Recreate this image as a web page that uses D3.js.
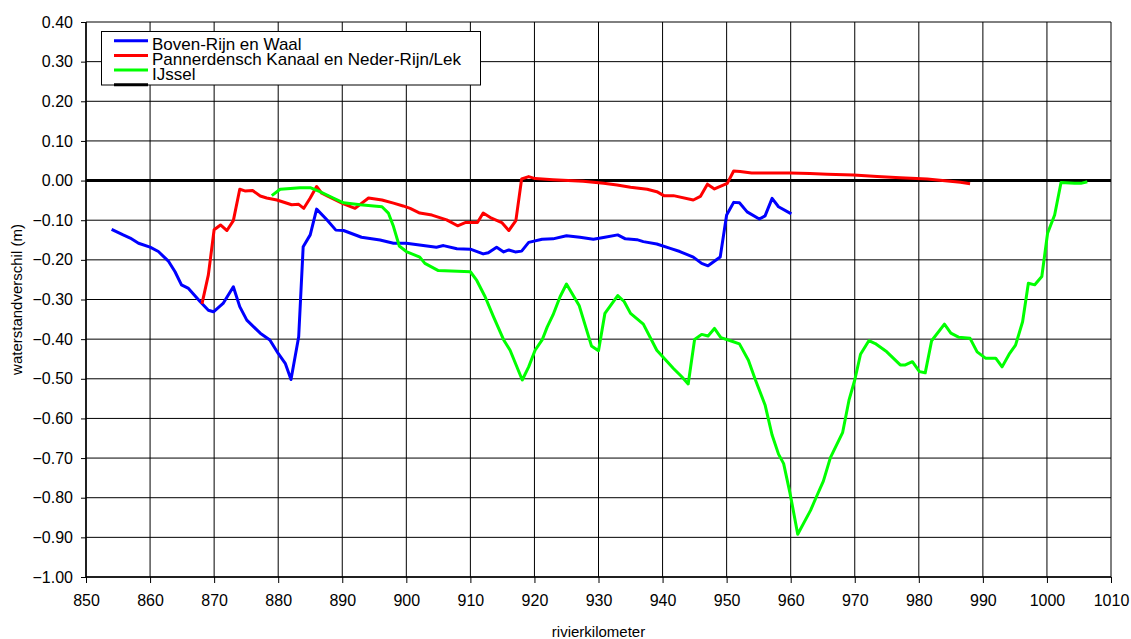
<!DOCTYPE html>
<html>
<head>
<meta charset="utf-8">
<script src="https://cdn.jsdelivr.net/npm/d3@7"></script>
<style>
  body { margin: 0; background: #fff; }
  text { font-family: "Liberation Sans", Arial, sans-serif; fill: #000; }
</style>
</head>
<body>
<svg id="chart" width="1131" height="639"></svg>
<script>
// series: [rivierkilometer, waterstandverschil (m)]
const bovenRijnWaal = [[854.0,-0.123],[855.8,-0.137],[856.9,-0.145],[858.2,-0.158],[860.0,-0.168],[861.3,-0.179],[862.9,-0.204],[863.9,-0.230],[864.9,-0.263],[866.0,-0.272],[867.8,-0.305],[869.1,-0.327],[869.9,-0.331],[871.4,-0.310],[873.0,-0.268],[874.0,-0.318],[875.1,-0.352],[877.2,-0.385],[878.7,-0.402],[880.0,-0.436],[881.1,-0.461],[882.0,-0.502],[883.2,-0.394],[883.9,-0.167],[885.0,-0.137],[886.0,-0.072],[887.6,-0.099],[889.0,-0.125],[890.2,-0.126],[893.0,-0.143],[895.9,-0.150],[898.0,-0.158],[900.0,-0.158],[904.7,-0.168],[905.8,-0.164],[907.9,-0.172],[910.0,-0.173],[912.0,-0.185],[912.8,-0.182],[914.1,-0.168],[915.2,-0.180],[916.0,-0.175],[917.0,-0.180],[918.0,-0.178],[919.1,-0.156],[921.2,-0.148],[922.9,-0.147],[925.0,-0.139],[927.1,-0.143],[929.2,-0.148],[931.0,-0.143],[933.0,-0.137],[934.2,-0.147],[936.0,-0.149],[937.0,-0.154],[939.1,-0.160],[941.2,-0.171],[942.7,-0.179],[944.8,-0.193],[946.1,-0.209],[947.1,-0.215],[949.0,-0.193],[950.0,-0.087],[951.1,-0.055],[952.0,-0.056],[953.2,-0.079],[955.1,-0.097],[956.0,-0.089],[957.1,-0.045],[958.1,-0.066],[960.1,-0.084]];

const pannerdenschLek = [[868.1,-0.311],[869.1,-0.238],[870.0,-0.124],[871.0,-0.112],[872.0,-0.126],[873.0,-0.101],[874.0,-0.022],[874.8,-0.026],[876.0,-0.025],[877.2,-0.039],[878.2,-0.044],[879.8,-0.049],[882.1,-0.061],[883.2,-0.060],[884.0,-0.070],[885.0,-0.044],[886.0,-0.015],[886.8,-0.032],[887.8,-0.040],[890.2,-0.059],[892.0,-0.070],[894.1,-0.044],[896.2,-0.049],[898.0,-0.057],[899.5,-0.064],[900.6,-0.070],[902.1,-0.082],[904.0,-0.087],[906.3,-0.099],[908.0,-0.114],[909.2,-0.106],[911.1,-0.106],[912.0,-0.082],[913.3,-0.095],[914.9,-0.106],[916.0,-0.126],[917.1,-0.101],[918.0,0.004],[919.1,0.010],[920.1,0.005],[922.9,0.002],[927.6,-0.002],[930.8,-0.007],[932.9,-0.011],[935.0,-0.017],[937.6,-0.022],[939.1,-0.028],[940.2,-0.038],[941.7,-0.038],[944.8,-0.049],[945.9,-0.040],[947.0,-0.009],[948.1,-0.021],[950.1,-0.007],[951.1,0.024],[952.1,0.023],[953.9,0.019],[959.9,0.019],[963.0,0.018],[965.7,0.016],[969.8,0.014],[973.5,0.010],[977.1,0.007],[981.3,0.004],[986.5,-0.004],[988.0,-0.008]];

const ijssel = [[879.0,-0.038],[880.3,-0.022],[881.9,-0.020],[883.4,-0.018],[885.0,-0.018],[886.5,-0.028],[888.6,-0.044],[890.2,-0.056],[892.8,-0.061],[896.2,-0.066],[897.2,-0.082],[898.0,-0.116],[898.9,-0.165],[900.0,-0.179],[902.1,-0.193],[902.9,-0.209],[905.0,-0.227],[910.0,-0.230],[911.0,-0.252],[912.3,-0.293],[913.6,-0.343],[915.2,-0.402],[916.2,-0.428],[918.1,-0.503],[919.1,-0.470],[920.1,-0.428],[921.2,-0.402],[922.0,-0.369],[922.9,-0.339],[924.0,-0.293],[925.0,-0.261],[927.0,-0.316],[928.9,-0.417],[930.0,-0.429],[931.0,-0.335],[933.0,-0.290],[934.0,-0.305],[935.0,-0.335],[937.0,-0.362],[939.1,-0.428],[941.7,-0.474],[943.0,-0.495],[944.0,-0.513],[945.0,-0.401],[946.1,-0.388],[947.1,-0.392],[948.1,-0.373],[949.1,-0.396],[950.6,-0.404],[952.0,-0.412],[953.4,-0.453],[954.5,-0.503],[956.0,-0.566],[957.1,-0.642],[958.1,-0.690],[958.9,-0.714],[959.9,-0.789],[961.1,-0.892],[963.1,-0.832],[963.9,-0.802],[965.1,-0.758],[966.2,-0.699],[968.1,-0.636],[969.1,-0.554],[970.0,-0.503],[970.9,-0.438],[972.2,-0.404],[973.2,-0.411],[975.0,-0.432],[977.1,-0.465],[977.9,-0.465],[979.0,-0.457],[980.1,-0.482],[981.0,-0.485],[982.0,-0.404],[984.0,-0.362],[985.0,-0.385],[986.2,-0.395],[988.0,-0.398],[989.1,-0.432],[990.4,-0.448],[992.0,-0.448],[993.0,-0.470],[994.1,-0.438],[995.1,-0.415],[996.2,-0.356],[997.1,-0.259],[998.1,-0.263],[999.2,-0.242],[1000.1,-0.133],[1001.2,-0.087],[1002.2,-0.005],[1004.3,-0.007],[1005.3,-0.007],[1006.3,-0.003]];

const seriesNames = ["Boven-Rijn en Waal", "Pannerdensch Kanaal en Neder-Rijn/Lek", "IJssel", ""];
const seriesColors = ["#0000ff", "#ff0000", "#00ff00", "#000000"];
const xTicks = d3.range(850, 1011, 10);
const yTicks = d3.range(-10, 5).map(d => d / 10);

const svg = d3.select("#chart");
const margin = {left: 86, right: 20, top: 22, bottom: 62};
const W = 1131, H = 639;

const x = d3.scaleLinear().domain([850, 1010]).range([margin.left, W - margin.right]);
const y = d3.scaleLinear().domain([-1, 0.4]).range([H - margin.bottom, margin.top]);

// grid
const grid = svg.append("g");
grid.selectAll(".vg").data(xTicks).enter().append("line")
    .attr("x1", d => x(d)).attr("x2", d => x(d))
    .attr("y1", y(0.4)).attr("y2", y(-1))
    .attr("stroke", "#000").attr("stroke-width", 1);
grid.selectAll(".hg").data(yTicks).enter().append("line")
    .attr("x1", x(850)).attr("x2", x(1010))
    .attr("y1", d => y(d)).attr("y2", d => y(d))
    .attr("stroke", "#000").attr("stroke-width", 1);

// axes
const yAxis = d3.axisLeft(y).tickValues(yTicks).tickFormat(d3.format(".2f")).tickSize(5).tickPadding(8);
const xAxis = d3.axisBottom(x).tickValues(xTicks).tickFormat(d3.format("d")).tickSize(6).tickPadding(12);

const gy = svg.append("g").attr("transform", `translate(${x(850)},0)`).call(yAxis);
const gx = svg.append("g").attr("transform", `translate(0,${y(-1)})`).call(xAxis);
[gy, gx].forEach(g => {
    g.selectAll("path").attr("stroke", "#000").attr("stroke-width", 1.5);
    g.selectAll("line").attr("stroke", "#000");
    g.selectAll("text").style("font-size", "16px").style("font-family", "\"Liberation Sans\", Arial, sans-serif").attr("fill", "#000");
});
gy.select(".domain").attr("d", `M0,${y(0.4)}V${y(-1)}`);
gx.select(".domain").attr("d", `M${x(850)},0H${x(1010)}`);

// zero line
svg.append("line")
    .attr("x1", x(850)).attr("x2", x(1010))
    .attr("y1", y(0)).attr("y2", y(0))
    .attr("stroke", "#000").attr("stroke-width", 3);

// series
const line = d3.line().x(d => x(d[0])).y(d => y(d[1]));
[bovenRijnWaal, pannerdenschLek, ijssel].forEach((s, i) => {
    svg.append("path")
        .datum(s)
        .attr("d", line)
        .attr("fill", "none")
        .attr("stroke", seriesColors[i])
        .attr("stroke-width", 3)
        .attr("stroke-linejoin", "round");
});

// axis titles
svg.append("text")
    .attr("transform", `translate(22,${(y(0.4) + y(-1)) / 2}) rotate(-90)`)
    .attr("text-anchor", "middle")
    .style("font-size", "15px")
    .text("waterstandverschil (m)");
svg.append("text")
    .attr("x", (x(850) + x(1010)) / 2)
    .attr("y", 637)
    .attr("text-anchor", "middle")
    .style("font-size", "15px")
    .text("rivierkilometer");

// legend
const legend = svg.append("g");
legend.append("rect")
    .attr("x", 101.5).attr("y", 31.5)
    .attr("width", 379).attr("height", 53.5)
    .attr("fill", "#fff").attr("stroke", "#000").attr("stroke-width", 1);
const items = legend.selectAll(".item").data(seriesNames).enter().append("g")
    .attr("transform", (d, i) => `translate(0,${40.7 + i * 14.7})`);
items.append("line")
    .attr("x1", 114).attr("x2", 148)
    .attr("stroke", (d, i) => seriesColors[i])
    .attr("stroke-width", 3);
items.append("text")
    .attr("x", 152).attr("y", 9.5)
    .style("font-size", "17px")
    .text(d => d);
</script>
</body>
</html>
